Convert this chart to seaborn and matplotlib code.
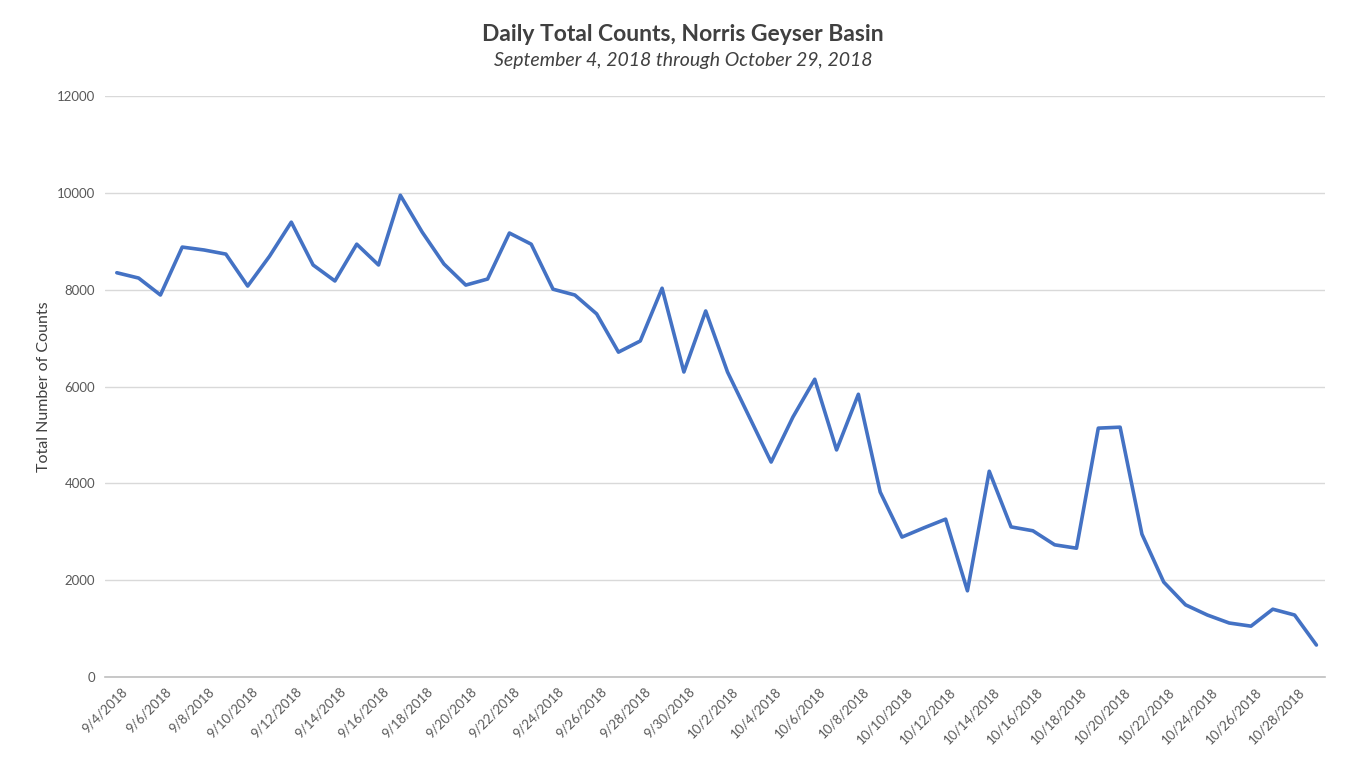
import matplotlib.pyplot as plt
import matplotlib.ticker as mticker
import matplotlib.dates as mdates
import matplotlib.transforms as mtrans
import seaborn as sns
import pandas as pd

# daily counts, 9/4/2018 .. 10/29/2018
dates = pd.date_range("2018-09-04", "2018-10-29", freq="D")
counts = [8350, 8240, 7890, 8880, 8820, 8735, 8075, 8690, 9395, 8510,
          8180, 8940, 8510, 9950, 9190, 8530, 8095, 8220, 9170, 8940,
          8010, 7890, 7500, 6710, 6940, 8030, 6300, 7560, 6300, 5370,
          4440, 5370, 6150, 4690, 5840, 3820, 2890, 3080, 3260, 1780,
          4250, 3100, 3020, 2730, 2660, 5140, 5160, 2950, 1960, 1490,
          1280, 1115, 1050, 1400, 1280, 660]
yticks = [0, 2000, 4000, 6000, 8000, 10000, 12000]

df = pd.DataFrame({"date": dates, "count": counts})

sns.set_theme(style="white")
plt.rcParams["font.family"] = ["Lato", "DejaVu Sans"]

fig = plt.figure(figsize=(13.53, 7.64), dpi=100)
ax = fig.add_axes([0.0776, 0.1139, 0.9014, 0.7604])

sns.lineplot(data=df, x="date", y="count", color="#4472C4", linewidth=2.6, ax=ax)

ax.set_ylim(0, 12000)
ax.set_yticks(yticks)
ax.set_xlim(dates[0] - pd.Timedelta(hours=13), dates[-1] + pd.Timedelta(hours=9))
ax.grid(axis="y", color="#D9D9D9", linewidth=1)
ax.set_axisbelow(True)

for s in ["top", "right", "left"]:
    ax.spines[s].set_visible(False)
ax.spines["bottom"].set_color("#BFBFBF")
ax.spines["bottom"].set_linewidth(1.2)

ax.set_xticks(dates[::2])
ax.xaxis.set_major_formatter(
    mticker.FuncFormatter(lambda v, p: "{d.month}/{d.day}/{d.year}".format(d=mdates.num2date(v))))
ax.tick_params(axis="x", labelsize=9.5, colors="#595959", length=0, pad=6)
ax.tick_params(axis="y", labelsize=9.5, colors="#595959", length=0, pad=7)
shift = mtrans.ScaledTranslation(4 / 100, 0, fig.dpi_scale_trans)
for lbl in ax.get_xticklabels():
    lbl.set_rotation(45)
    lbl.set_ha("right")
    lbl.set_rotation_mode("anchor")
    lbl.set_transform(lbl.get_transform() + shift)

ax.set_xlabel("")
ax.set_ylabel("Total Number of Counts", fontsize=11.5, color="#404040", labelpad=4)

fig.text(0.505, 0.955, "Daily Total Counts, Norris Geyser Basin", ha="center", va="center",
         fontsize=16.5, fontweight="bold", color="#404040")
fig.text(0.505, 0.921, "September 4, 2018 through October 29, 2018", ha="center", va="center",
         fontsize=14, style="italic", color="#404040")

fig.savefig("out.png", dpi=100)
